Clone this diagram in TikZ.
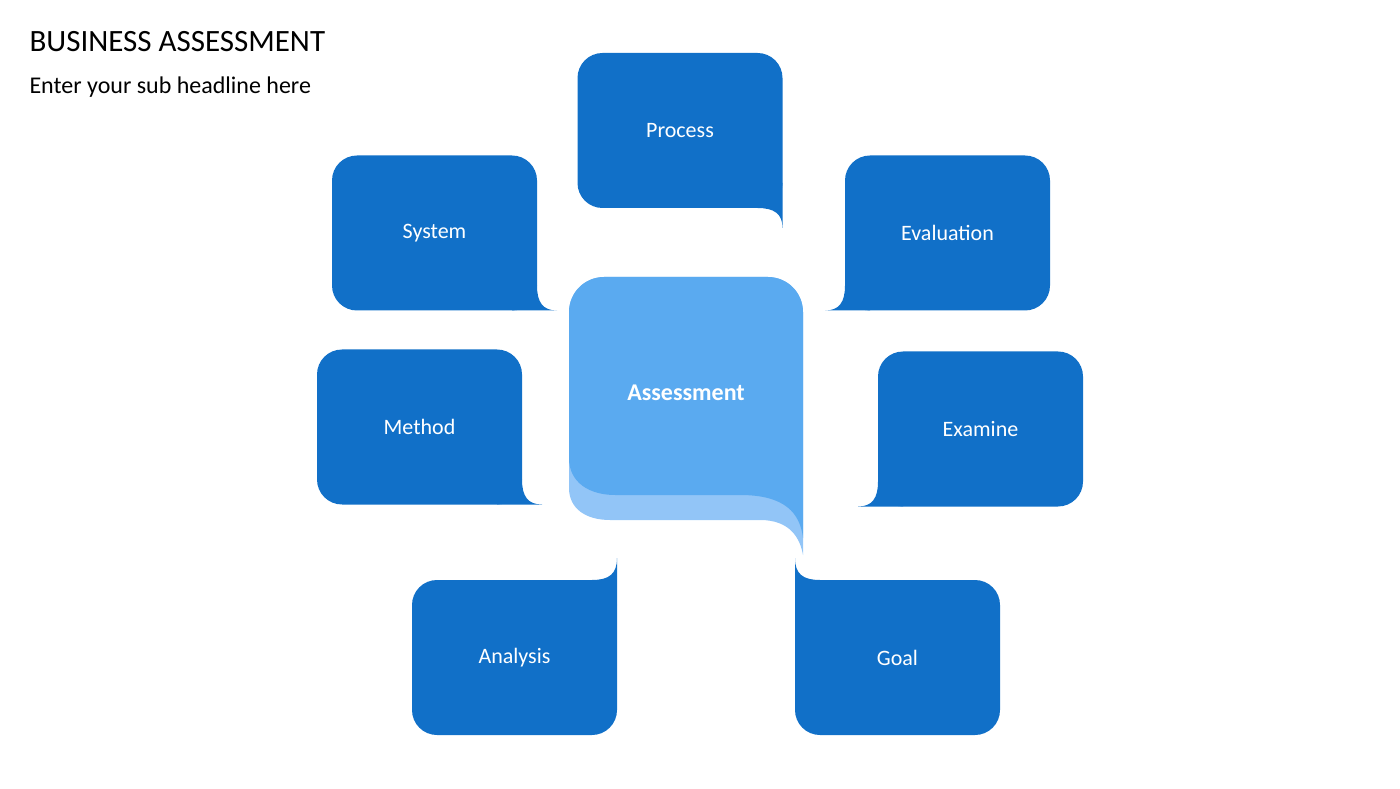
\documentclass[tikz,border=0pt]{standalone}
\usepackage{fontspec}
\setmainfont{Carlito}
\usetikzlibrary{calc}
\definecolor{dblue}{HTML}{1170C8}
\definecolor{cblue}{HTML}{5AAAF0}
\definecolor{lblue}{HTML}{92C5F7}
\begin{document}
\begin{tikzpicture}[x=1pt,y=1pt,
  bub/.style={fill=dblue,rounded corners=25pt,minimum width=205pt,minimum height=155pt,inner sep=0pt,outer sep=0pt,text=white,font=\fontsize{22}{26}\selectfont}]
\useasboundingbox (0,0) rectangle (1400,788);
\node[anchor=west,font=\fontsize{31}{36}\selectfont] (t) at (26,746) {BUSINESS ASSESSMENT};
\node[anchor=west,font=\fontsize{24}{28}\selectfont] (st) at (26,701) {Enter your sub headline here};
% bubbles: center at ((x1+x2)/2, 788-(y1+y2)/2)
\node[bub] (P) at (680,657.5) {Process};
\node[bub] (S) at (434.5,555) {System};
\node[bub] (E) at (947.5,555) {Evaluation};
\node[bub] (M) at (419.5,361) {Method};
\node[bub] (X) at (980.5,359) {Examine};
\node[bub] (A) at (514.5,130.5) {Analysis};
\node[bub] (G) at (897.5,130.5) {Goal};
% tails
\fill[dblue] ($(P.south east)+(0,25)$) -- ($(P.south east)+(0,-20)$) .. controls ($(P.south east)+(0,-6)$) and ($(P.south east)+(-8,0)$) .. ($(P.south east)+(-25,0)$) -- ($(P.south east)+(-25,25)$) -- cycle;
\fill[dblue] ($(S.south east)+(-25,0)$) -- ($(S.south east)+(20,0)$) .. controls ($(S.south east)+(6,0)$) and ($(S.south east)+(0,8)$) .. ($(S.south east)+(0,25)$) -- ($(S.south east)+(-25,25)$) -- cycle;
\fill[dblue] ($(M.south east)+(-25,0)$) -- ($(M.south east)+(20,0)$) .. controls ($(M.south east)+(6,0)$) and ($(M.south east)+(0,8)$) .. ($(M.south east)+(0,25)$) -- ($(M.south east)+(-25,25)$) -- cycle;
\fill[dblue] ($(E.south west)+(25,0)$) -- ($(E.south west)+(-20,0)$) .. controls ($(E.south west)+(-6,0)$) and ($(E.south west)+(0,8)$) .. ($(E.south west)+(0,25)$) -- ($(E.south west)+(25,25)$) -- cycle;
\fill[dblue] ($(X.south west)+(25,0)$) -- ($(X.south west)+(-20,0)$) .. controls ($(X.south west)+(-6,0)$) and ($(X.south west)+(0,8)$) .. ($(X.south west)+(0,25)$) -- ($(X.south west)+(25,25)$) -- cycle;
\fill[dblue] ($(A.north east)+(0,-25)$) -- ($(A.north east)+(0,22)$) .. controls ($(A.north east)+(0,6)$) and ($(A.north east)+(-8,0)$) .. ($(A.north east)+(-25,0)$) -- ($(A.north east)+(-25,-25)$) -- cycle;
\fill[dblue] ($(G.north west)+(0,-25)$) -- ($(G.north west)+(0,22)$) .. controls ($(G.north west)+(0,6)$) and ($(G.north west)+(8,0)$) .. ($(G.north west)+(25,0)$) -- ($(G.north west)+(25,-25)$) -- cycle;
% center bubble
\fill[lblue] (569,480) [rounded corners=35pt] -- (569,511) -- (803,511) [sharp corners] -- (803,233)
  .. controls (800,250) and (790,268) .. (760,268) -- (610,268) [rounded corners=0pt] .. controls (585,268) and (569,280) .. (569,300) -- cycle;
\fill[cblue] (569,480) [rounded corners=35pt] -- (569,511) -- (803,511) [sharp corners] -- (803,250)
  .. controls (800,275) and (785,293) .. (740,293) -- (615,293) .. controls (590,293) and (569,305) .. (569,330) -- cycle;
\node[text=white,font=\bfseries\fontsize{24}{28}\selectfont] (C) at (686,395) {Assessment};
\end{tikzpicture}
\end{document}
